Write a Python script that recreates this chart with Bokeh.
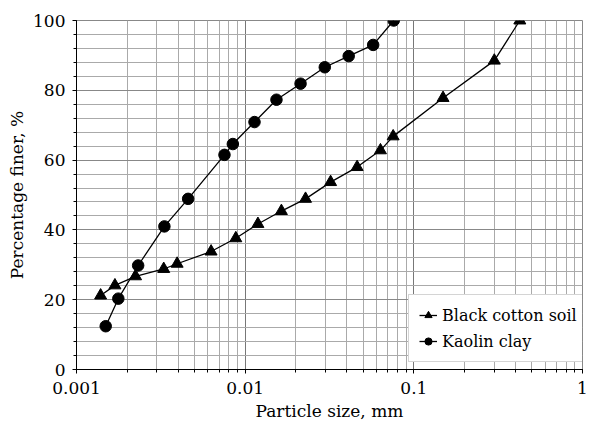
from bokeh.plotting import figure
from bokeh.models import (LogTicker, SingleIntervalTicker,
                          CustomJSTickFormatter, Legend, LegendItem, Range1d)
from bokeh.embed import file_html
from bokeh.resources import INLINE

# Black cotton soil
bcs_size = [0.00139, 0.00169, 0.00224, 0.00329, 0.00395, 0.00628, 0.0088, 0.0119,
            0.0164, 0.0228, 0.0321, 0.0461, 0.0634, 0.0754, 0.149, 0.30, 0.425]
bcs_finer = [21.2, 24.1, 26.7, 28.8, 30.3, 33.8, 37.6, 41.7,
             45.4, 48.9, 53.7, 58.0, 62.8, 66.8, 77.8, 88.5, 100.0]

# Kaolin clay
kc_size = [0.00149, 0.00177, 0.00232, 0.00332, 0.00459, 0.00754, 0.00845, 0.01136,
           0.01533, 0.0213, 0.02965, 0.0411, 0.0574, 0.076]
kc_finer = [12.4, 20.3, 29.8, 41.0, 48.9, 61.5, 64.6, 70.9,
            77.3, 81.9, 86.6, 89.8, 93.0, 100.0]

x_label = "Particle size, mm"
y_label = "Percentage finer, %"
FONT = "DejaVu Serif"

p = figure(width=594, height=425, x_axis_type="log",
           x_range=Range1d(0.001, 1), y_range=Range1d(0, 100),
           output_backend="svg", toolbar_location=None,
           min_border_left=76, min_border_right=12, min_border_top=20, min_border_bottom=56)

p.outline_line_color = "#888888"
p.background_fill_color = "white"
p.border_fill_color = "white"

# x axis
xa = p.xaxis[0]
xa.ticker = LogTicker(num_minor_ticks=10)
xa.formatter = CustomJSTickFormatter(code="return Number(tick.toPrecision(1)).toString();")
xa.axis_label = x_label

# y axis
ya = p.yaxis[0]
ya.ticker = SingleIntervalTicker(interval=20, num_minor_ticks=5)
ya.axis_label = y_label

for ax in (xa, ya):
    ax.axis_line_color = "black"
    ax.axis_line_width = 1
    ax.major_tick_line_color = "black"
    ax.minor_tick_line_color = "black"
    ax.major_tick_in = 0
    ax.major_tick_out = 4
    ax.minor_tick_in = 0
    ax.minor_tick_out = 3
    ax.major_label_text_font = FONT
    ax.major_label_text_font_size = "17px"
    ax.major_label_text_color = "black"
    ax.axis_label_text_font = FONT
    ax.axis_label_text_font_size = "17px"
    ax.axis_label_text_font_style = "normal"
    ax.axis_label_text_color = "black"

xa.major_label_standoff = 8
xa.axis_label_standoff = 4
ya.major_label_standoff = 7
ya.axis_label_standoff = 3

p.xgrid.grid_line_color = "#777777"
p.xgrid.minor_grid_line_color = "#aaaaaa"
p.xgrid.grid_line_width = 1
p.ygrid.grid_line_color = "#888888"
p.ygrid.minor_grid_line_color = "#aaaaaa"

l1 = p.line(bcs_size, bcs_finer, line_color="black", line_width=1.3)
m1 = p.scatter(bcs_size, bcs_finer, marker="triangle", size=12, fill_color="black", line_color="black")
l2 = p.line(kc_size, kc_finer, line_color="black", line_width=1.3)
m2 = p.scatter(kc_size, kc_finer, marker="circle", size=11.5, fill_color="black", line_color="black")

legend = Legend(items=[LegendItem(label="Black cotton soil", renderers=[l1, m1]),
                       LegendItem(label="Kaolin clay", renderers=[l2, m2])],
                location=(332, 7))
legend.label_text_font = FONT
legend.label_text_font_size = "16px"
legend.label_text_color = "black"
legend.border_line_color = "#aaaaaa"
legend.background_fill_color = "white"
legend.background_fill_alpha = 1
legend.glyph_width = 18
legend.glyph_height = 20
legend.label_standoff = 5
legend.spacing = 6
legend.padding = 10
legend.margin = 0
p.add_layout(legend, "center")

open("out.html", "w").write(file_html(p, INLINE))
